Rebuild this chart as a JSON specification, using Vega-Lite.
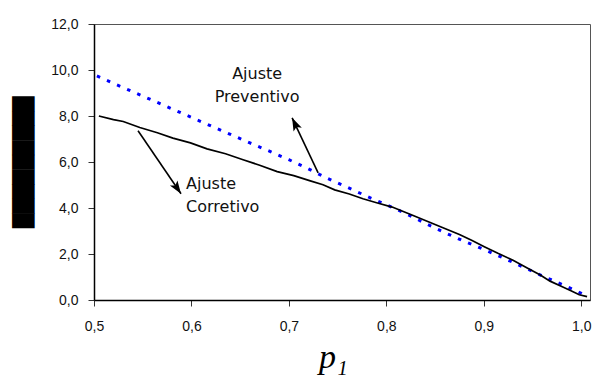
{
  "$schema": "https://vega.github.io/schema/vega-lite/v6.json",
  "width": 496,
  "height": 276,
  "autosize": "none",
  "padding": {"left": 94, "top": 24, "right": 16, "bottom": 76},
  "background": "white",
  "config": {
    "view": {"stroke": "#555555", "strokeWidth": 1},
    "axis": {
      "domainColor": "#000000",
      "domainWidth": 1.5,
      "tickColor": "#333333",
      "tickSize": 6,
      "tickWidth": 1,
      "grid": false,
      "labelFont": "Liberation Sans",
      "labelFontSize": 14,
      "labelColor": "#111111",
      "labelOverlap": false,
      "labelFlush": false
    }
  },
  "datasets": {
    "preventivo": [
      {"p": 0.503, "valor": 9.74}, {"p": 0.52, "valor": 9.42}, {"p": 0.54, "valor": 9.05},
      {"p": 0.56, "valor": 8.68}, {"p": 0.58, "valor": 8.31}, {"p": 0.60, "valor": 7.94},
      {"p": 0.62, "valor": 7.57}, {"p": 0.64, "valor": 7.20}, {"p": 0.66, "valor": 6.83},
      {"p": 0.68, "valor": 6.47}, {"p": 0.70, "valor": 6.10}, {"p": 0.72, "valor": 5.70},
      {"p": 0.74, "valor": 5.28}, {"p": 0.76, "valor": 4.90}, {"p": 0.78, "valor": 4.51},
      {"p": 0.80, "valor": 4.14}, {"p": 0.82, "valor": 3.76}, {"p": 0.84, "valor": 3.33},
      {"p": 0.86, "valor": 2.93}, {"p": 0.88, "valor": 2.55}, {"p": 0.90, "valor": 2.20},
      {"p": 0.92, "valor": 1.83}, {"p": 0.94, "valor": 1.44}, {"p": 0.96, "valor": 1.05},
      {"p": 0.98, "valor": 0.68}, {"p": 0.996, "valor": 0.38}, {"p": 1.006, "valor": 0.15}
    ],
    "corretivo": [
      {"p": 0.505, "valor": 8.00}, {"p": 0.52, "valor": 7.84}, {"p": 0.53, "valor": 7.76},
      {"p": 0.547, "valor": 7.50}, {"p": 0.565, "valor": 7.27}, {"p": 0.581, "valor": 7.04},
      {"p": 0.599, "valor": 6.83}, {"p": 0.616, "valor": 6.57}, {"p": 0.635, "valor": 6.36},
      {"p": 0.653, "valor": 6.10}, {"p": 0.67, "valor": 5.86}, {"p": 0.688, "valor": 5.58},
      {"p": 0.705, "valor": 5.41}, {"p": 0.722, "valor": 5.18}, {"p": 0.735, "valor": 5.01},
      {"p": 0.747, "valor": 4.79}, {"p": 0.762, "valor": 4.61}, {"p": 0.776, "valor": 4.40},
      {"p": 0.79, "valor": 4.23}, {"p": 0.806, "valor": 4.04}, {"p": 0.825, "valor": 3.72},
      {"p": 0.845, "valor": 3.37}, {"p": 0.86, "valor": 3.11}, {"p": 0.875, "valor": 2.85},
      {"p": 0.888, "valor": 2.59}, {"p": 0.9, "valor": 2.33}, {"p": 0.915, "valor": 2.02},
      {"p": 0.93, "valor": 1.73}, {"p": 0.946, "valor": 1.36}, {"p": 0.958, "valor": 1.09},
      {"p": 0.968, "valor": 0.82}, {"p": 0.98, "valor": 0.59}, {"p": 0.99, "valor": 0.39},
      {"p": 0.998, "valor": 0.23}, {"p": 1.006, "valor": 0.15}
    ],
    "setas": [
      {"seta": "Preventivo", "p": 0.730, "valor": 5.53, "p2": 0.7033, "valor2": 7.92},
      {"seta": "Corretivo", "p": 0.5452, "valor": 7.36, "p2": 0.5893, "valor2": 4.62}
    ],
    "pontas": [
      {"seta": "Preventivo", "p": 0.7033, "valor": 7.92},
      {"seta": "Corretivo", "p": 0.5893, "valor": 4.62}
    ],
    "textos": [
      {"grupo": "Preventivo", "p": 0.6674, "valor": 9.84, "texto": "Ajuste"},
      {"grupo": "Preventivo", "p": 0.6674, "valor": 8.84, "texto": "Preventivo"},
      {"grupo": "Corretivo", "p": 0.5945, "valor": 5.06, "texto": "Ajuste"},
      {"grupo": "Corretivo", "p": 0.5945, "valor": 4.06, "texto": "Corretivo"}
    ]
  },
  "encoding": {
    "x": {
      "field": "p",
      "type": "quantitative",
      "scale": {"domain": [0.5, 1.009], "nice": false, "zero": false},
      "axis": {
        "values": [0.5, 0.6, 0.7, 0.8, 0.9, 1.0],
        "labelExpr": "replace(format(datum.value, '.1f'), '.', ',')",
        "labelPadding": 13,
        "labelDx": 5,
        "title": "p₁",
        "titleFont": "Liberation Serif",
        "titleFontStyle": "italic",
        "titleFontWeight": "normal",
        "titleFontSize": 34,
        "titleColor": "#000000",
        "titlePadding": 7,
        "titleX": 239
      }
    },
    "y": {
      "field": "valor",
      "type": "quantitative",
      "scale": {"domain": [0, 12], "nice": false, "zero": true},
      "axis": {
        "values": [0, 2, 4, 6, 8, 10, 12],
        "labelExpr": "replace(format(datum.value, '.1f'), '.', ',')",
        "labelPadding": 10,
        "title": "█████████",
        "titleFont": "DejaVu Sans",
        "titleFontSize": 19,
        "titleFontWeight": "normal",
        "titleColor": "#000000",
        "titlePadding": 17
      }
    }
  },
  "layer": [
    {
      "data": {"name": "preventivo"},
      "mark": {"type": "line", "color": "#0000ff", "strokeWidth": 3, "strokeDash": [3.5, 7.5], "strokeCap": "butt"}
    },
    {
      "data": {"name": "corretivo"},
      "mark": {"type": "line", "color": "#000000", "strokeWidth": 1.7}
    },
    {
      "data": {"name": "setas"},
      "mark": {"type": "rule", "color": "#000000", "strokeWidth": 1.6},
      "encoding": {"x2": {"field": "p2"}, "y2": {"field": "valor2"}}
    },
    {
      "data": {"name": "pontas"},
      "transform": [{"filter": "datum.seta === 'Preventivo'"}],
      "mark": {"type": "point", "shape": "M0,0L0.7,2L0,1.55L-0.7,2Z", "size": 170, "filled": true, "color": "#000000", "opacity": 1, "angle": 334.7}
    },
    {
      "data": {"name": "pontas"},
      "transform": [{"filter": "datum.seta === 'Corretivo'"}],
      "mark": {"type": "point", "shape": "M0,0L0.7,2L0,1.55L-0.7,2Z", "size": 170, "filled": true, "color": "#000000", "opacity": 1, "angle": 145.7}
    },
    {
      "data": {"name": "textos"},
      "transform": [{"filter": "datum.grupo === 'Preventivo'"}],
      "mark": {"type": "text", "align": "center", "baseline": "middle", "font": "DejaVu Sans", "fontSize": 16, "color": "#111111"},
      "encoding": {"text": {"field": "texto"}}
    },
    {
      "data": {"name": "textos"},
      "transform": [{"filter": "datum.grupo === 'Corretivo'"}],
      "mark": {"type": "text", "align": "left", "baseline": "middle", "font": "DejaVu Sans", "fontSize": 16, "color": "#111111"},
      "encoding": {"text": {"field": "texto"}}
    }
  ]
}
